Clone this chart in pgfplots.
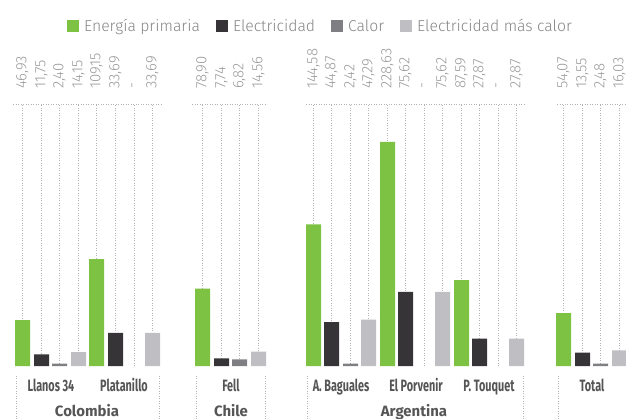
\documentclass[border=0pt]{standalone}
\usepackage{fontspec}
\setmainfont{Fira Sans}
\newfontfamily\condfont{Fira Sans}[FakeStretch=0.66]
\newfontfamily\lightfont{Fira Sans Light}
\usepackage{pgfplots}
\usepackage{pgfplotstable}
\pgfplotsset{compat=1.18}
\definecolor{cgreen}{HTML}{7DC242}
\definecolor{cdark}{HTML}{363436}
\definecolor{cgray}{HTML}{7F7F83}
\definecolor{clight}{HTML}{BFBFC3}
\definecolor{numgray}{HTML}{9A9A9A}
\definecolor{labgray}{HTML}{555555}
\definecolor{leggray}{HTML}{858585}
\definecolor{dotgray}{HTML}{B4B4B4}
\tikzset{
  catlab/.style={anchor=base, text=labgray, font=\condfont\bfseries\fontsize{16.5}{17}\selectfont},
  ctrylab/.style={anchor=base, text=labgray, font=\bfseries\fontsize{15}{16}\selectfont},
}

\pgfplotstableread{
x v lab
22.5 46.93 46,93
96.5 109.15 109,15
202.5 78.90 78,90
313.5 144.58 144,58
387.5 228.63 228,63
461.5 87.59 87,59
563.5 54.07 54,07
}\prim
\pgfplotstableread{
x v lab
41.5 11.75 11,75
115.5 33.69 33,69
221.5 7.74 7,74
331.5 44.87 44,87
405.5 75.62 75,62
479.5 27.87 27,87
582.5 13.55 13,55
}\elec
\pgfplotstableread{
x v lab
59.5 2.40 2,40
134 nan -
239.5 6.82 6,82
350.5 2.42 2,42
424 nan -
498 nan -
600.5 2.48 2,48
}\calor
\pgfplotstableread{
x v lab
78.5 14.15 14,15
152.5 33.69 33,69
258.5 14.56 14,56
368.5 47.29 47,29
442.5 75.62 75,62
516.5 27.87 27,87
619.5 16.03 16,03
}\emc

\begin{document}
\begin{tikzpicture}
\begin{axis}[
  scale only axis, width=626bp, height=419bp,
  xmin=0, xmax=626, ymin=-54.08, ymax=373.47,
  hide axis, clip=false,
  legend image code/.code={\path (-16bp,0bp); \fill[#1] (0bp,-6bp) rectangle (12bp,6bp); \path (17bp,0bp);},
  legend columns=4,
  legend style={draw=none, fill=none, inner sep=0pt, column sep=0pt,
    at={(axis description cs:0.0815,0.938)}, anchor=west,
    font=\lightfont\fontsize{15.8}{16}\selectfont, text=leggray,
    nodes={inner sep=0pt}},
  legend cell align=left,
  every node near coord/.append style={rotate=90, anchor=west, inner sep=0pt,
    font=\lightfont\fontsize{15}{15}\selectfont, text=numgray},
  dotline/.style={ycomb, mark=none, draw=dotgray, line width=0.8bp, dash pattern=on 0.9bp off 1.6bp, forget plot},
  hline/.style={mark=none, draw=dotgray, line width=0.8bp, dash pattern=on 0.9bp off 1.6bp, forget plot},
  vallab/.style={draw=none, mark=none, nodes near coords, point meta=explicit symbolic, forget plot},
]
% dotted guide lines
\addplot[dotline] table[x=x, y expr=267.3] {\prim};
\addplot[dotline] table[x=x, y expr=267.3] {\elec};
\addplot[dotline] table[x=x, y expr=267.3] {\calor};
\addplot[dotline] table[x=x, y expr=267.3] {\emc};
\addplot[hline] coordinates {(13,267.3) (161,267.3)};
\addplot[hline] coordinates {(192,267.3) (267,267.3)};
\addplot[hline] coordinates {(306,267.3) (525,267.3)};
\addplot[hline] coordinates {(557,267.3) (626,267.3)};
% bottom separators
\addplot[hline] coordinates {(16,-10.2) (16,-54.08)};
\addplot[hline] coordinates {(159,-10.2) (159,-54.08)};
\addplot[hline] coordinates {(196,-10.2) (196,-54.08)};
\addplot[hline] coordinates {(265,-10.2) (265,-54.08)};
\addplot[hline] coordinates {(307,-10.2) (307,-54.08)};
\addplot[hline] coordinates {(523,-10.2) (523,-54.08)};
\addplot[hline] coordinates {(558,-10.2) (558,-54.08)};
% bars
\addplot[ybar, bar width=15, bar shift=0pt, fill=cgreen, draw=none] table[x=x, y=v] {\prim};
\addlegendentry{Energía primaria}
\addplot[ybar, bar width=15, bar shift=0pt, fill=cdark, draw=none] table[x=x, y=v] {\elec};
\addlegendentry{Electricidad}
\addplot[ybar, bar width=15, bar shift=0pt, fill=cgray, draw=none] table[x=x, y=v] {\calor};
\addlegendentry{Calor}
\addplot[ybar, bar width=15, bar shift=0pt, fill=clight, draw=none] table[x=x, y=v] {\emc};
\addlegendentry{Electricidad más calor}
% value labels
\addplot[vallab] table[x=x, y expr=282.5, meta=lab] {\prim};
\addplot[vallab] table[x=x, y expr=282.5, meta=lab] {\elec};
\addplot[vallab] table[x=x, y expr=282.5, meta=lab] {\calor};
\addplot[vallab] table[x=x, y expr=282.5, meta=lab] {\emc};
% category labels
\node[catlab] at (axis cs:51,-26.5) {Llanos 34};
\node[catlab] at (axis cs:124,-26.5) {Platanillo};
\node[catlab] at (axis cs:231,-26.5) {Fell};
\node[catlab] at (axis cs:341,-26.5) {A. Baguales};
\node[catlab] at (axis cs:416,-26.5) {El Porvenir};
\node[catlab] at (axis cs:489,-26.5) {P. Touquet};
\node[catlab] at (axis cs:592,-26.5) {Total};
\node[ctrylab] at (axis cs:87,-51.5) {Colombia};
\node[ctrylab] at (axis cs:231,-51.5) {Chile};
\node[ctrylab] at (axis cs:414,-51.5) {Argentina};
\end{axis}
\pgfresetboundingbox
\path[use as bounding box] (current axis.south west) rectangle (current axis.north east);
\end{tikzpicture}
\end{document}
